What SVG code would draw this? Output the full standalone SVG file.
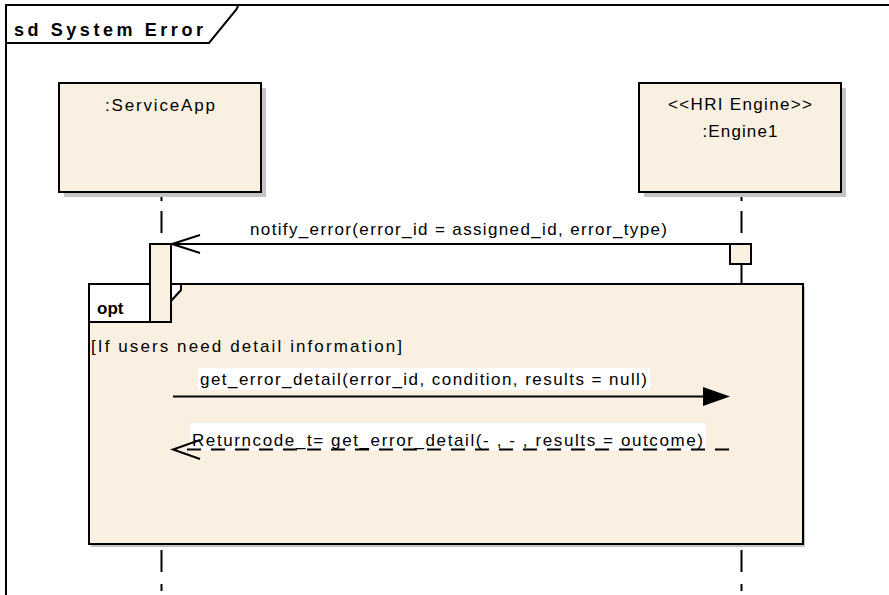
<svg xmlns="http://www.w3.org/2000/svg" width="889" height="595" viewBox="0 0 889 595">
<style>
text{font-family:"Liberation Sans",Arial,sans-serif;font-size:17px;fill:#000}
.b{font-weight:bold}
.box{fill:#FAF0E2;stroke:#000;stroke-width:2}
.shadow{fill:#C4C4C4}
.life{stroke:#000;stroke-width:2;fill:none;stroke-dasharray:22,12}
.line{stroke:#000;stroke-width:2;fill:none}
.dash{stroke:#000;stroke-width:2;fill:none;stroke-dasharray:14,10}
.bg{fill:#fff}
</style>
<rect width="889" height="595" fill="#fff"/>
<g id="frame">
<path class="line" d="M6,595 V5 H889"/>
<path class="line" d="M6,43 H209 L236,10 Q238,7 238,5"/>
<text class="b" x="14" y="36" textLength="189" lengthAdjust="spacing" style="font-size:18px">sd System Error</text>
</g>
<g id="lifelines">
<line class="life" x1="161.5" y1="193" x2="161.5" y2="244" style="stroke-dasharray:8,10,22,12"/>
<line class="life" x1="741.5" y1="193" x2="741.5" y2="244" style="stroke-dasharray:8,10,22,12"/>
<line class="line" x1="741.5" y1="264" x2="741.5" y2="284"/>
<line class="life" x1="161.5" y1="550" x2="161.5" y2="591"/>
<line class="life" x1="741.5" y1="550" x2="741.5" y2="591"/>
</g>
<g id="ServiceApp">
<rect class="shadow" x="64" y="88" width="202" height="109"/>
<rect class="box" x="59" y="83" width="202" height="109"/>
<text x="160" y="111" text-anchor="middle" textLength="110" lengthAdjust="spacing">:ServiceApp</text>
</g>
<g id="Engine1">
<rect class="shadow" x="644" y="88" width="202" height="109"/>
<rect class="box" x="639" y="83" width="202" height="109"/>
<text x="740" y="110" text-anchor="middle" textLength="144" lengthAdjust="spacing">&lt;&lt;HRI Engine&gt;&gt;</text>
<text x="740" y="137" text-anchor="middle" textLength="75" lengthAdjust="spacing">:Engine1</text>
</g>
<g id="opt">
<rect class="shadow" x="91" y="287" width="714" height="260"/>
<rect class="box" x="89" y="284" width="714" height="260"/>
<path class="line" d="M89,284 H181 V290 L152,322 H89 Z" style="fill:#fff"/>
<text class="b" x="97" y="314">opt</text>
<text x="91" y="352" textLength="311" lengthAdjust="spacing">[If users need detail information]</text>
</g>
<g id="activations">
<rect class="box" x="150" y="244" width="21" height="78"/>
<rect class="box" x="730" y="244" width="21" height="20"/>
</g>
<g id="connectors">
<line class="line" x1="730" y1="244" x2="172" y2="244"/>
<path class="line" d="M200,235 L172,244 L200,253"/>
<text x="250" y="235" textLength="417" lengthAdjust="spacing">notify_error(error_id = assigned_id, error_type)</text>
<rect class="bg" x="198" y="368" width="452" height="22"/>
<text x="200" y="385" textLength="447" lengthAdjust="spacing">get_error_detail(error_id, condition, results = null)</text>
<line class="line" x1="173" y1="396.5" x2="705" y2="396.5"/>
<path d="M703,387 L730,396.5 L703,406 Z" fill="#000"/>
<rect class="bg" x="190" y="423" width="516" height="27"/>
<text x="192" y="446" textLength="511" lengthAdjust="spacing">Returncode_t= get_error_detail(- , - , results = outcome)</text>
<line class="dash" x1="729" y1="449.5" x2="174" y2="449.5"/>
<path class="line" d="M200,440 L173,449.5 L200,459"/>
</g>
</svg>
